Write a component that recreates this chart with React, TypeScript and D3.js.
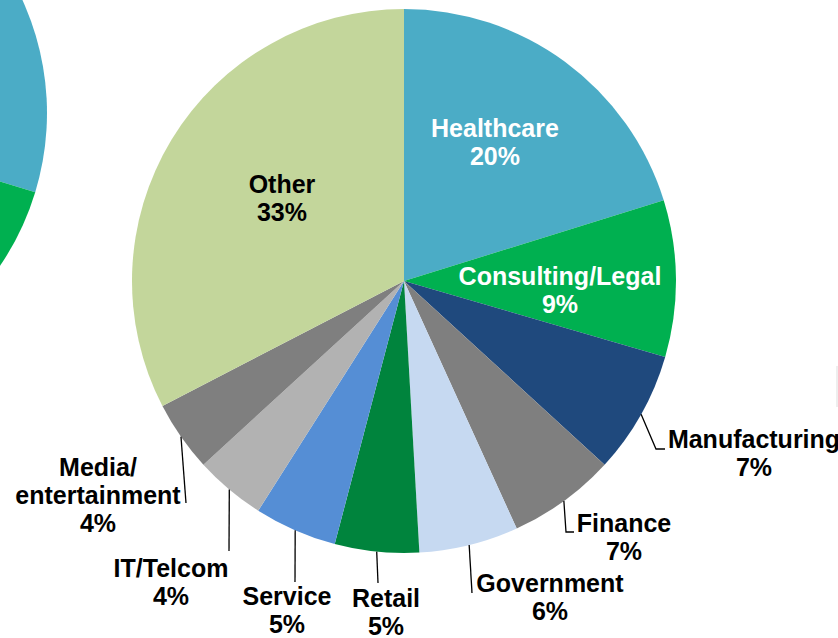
import React from "react";
import * as d3 from "d3";

// ---- data ----
const categories = [
  "Healthcare",
  "Consulting/Legal",
  "Manufacturing",
  "Finance",
  "Government",
  "Retail",
  "Service",
  "IT/Telcom",
  "Media/entertainment",
  "Other",
];
const shares = [20.2, 9.3, 7.3, 6.4, 5.9, 5.0, 4.9, 4.2, 4.2, 32.6];
const percentLabels = ["20%", "9%", "7%", "7%", "6%", "5%", "5%", "4%", "4%", "33%"];
const labelLines = [
  ["Healthcare"],
  ["Consulting/Legal"],
  ["Manufacturing"],
  ["Finance"],
  ["Government"],
  ["Retail"],
  ["Service"],
  ["IT/Telcom"],
  ["Media/", "entertainment"],
  ["Other"],
];

// partially visible neighbouring pie (left, cropped)
const leftPieCategories = ["Healthcare", "Consulting/Legal", "Rest"];
const leftPieShares = [29.7, 12, 58.3];

// ---- styles / layout ----
const colors = [
  "#4BACC6",
  "#00B050",
  "#1F497D",
  "#7F7F7F",
  "#C6D9F1",
  "#00843D",
  "#558ED5",
  "#B2B2B2",
  "#7F7F7F",
  "#C3D69B",
];
const textColors = ["#fff", "#fff", "#000", "#000", "#000", "#000", "#000", "#000", "#000", "#000"];
// label anchor (center x, first baseline y) and leader path end points (null = inside label)
const labelLayout: { x: number; y: number; leader: [number, number][] | null }[] = [
  { x: 495, y: 137, leader: null },
  { x: 560, y: 285, leader: null },
  { x: 754, y: 448, leader: [[656, 449], [665, 449]] },
  { x: 624, y: 532, leader: [[566, 532], [574, 532]] },
  { x: 550, y: 592, leader: [[472, 593]] },
  { x: 386, y: 607, leader: [[378, 583]] },
  { x: 287, y: 605, leader: [[295, 582]] },
  { x: 171, y: 577, leader: [[229, 551]] },
  { x: 98, y: 476, leader: [[186, 503]] },
  { x: 282, y: 193, leader: null },
];

const W = 838;
const H = 638;
const CX = 404;
const CY = 281;
const R = 272;
const LEFT_CX = -225;
const LEFT_CY = 113;
const LINE_H = 28;
const FONT = "'Liberation Sans', Arial, Helvetica, sans-serif";

export default function App() {
  const pie = d3.pie<number>().sort(null).value((d) => d);
  const arcs = pie(shares);
  const arcGen = d3.arc<d3.PieArcDatum<number>>().innerRadius(0).outerRadius(R);
  const leftArcs = pie(leftPieShares);
  const leftColors = ["#4BACC6", "#00B050", "#1F497D"];

  return (
    <svg
      width={W}
      height={H}
      viewBox={`0 0 ${W} ${H}`}
      style={{ position: "absolute", left: 0, top: 0, background: "#fff" }}
    >
      <g transform={`translate(${LEFT_CX},${LEFT_CY})`}>
        {leftArcs.map((a, i) => (
          <path key={leftPieCategories[i]} d={arcGen(a) || ""} fill={leftColors[i]} />
        ))}
      </g>
      <line x1={837} x2={837} y1={366} y2={407} stroke="#ddd" strokeWidth={1} />
      <g transform={`translate(${CX},${CY})`}>
        {arcs.map((a, i) => (
          <path key={categories[i]} d={arcGen(a) || ""} fill={colors[i]} />
        ))}
      </g>
      {arcs.map((a, i) => {
        const lay = labelLayout[i];
        if (!lay.leader) return null;
        const mid = (a.startAngle + a.endAngle) / 2;
        const sx = CX + R * Math.sin(mid);
        const sy = CY - R * Math.cos(mid);
        const pts: [number, number][] = [[sx, sy], ...lay.leader];
        return (
          <path
            key={"l" + i}
            d={d3.line()(pts) || ""}
            fill="none"
            stroke="#000"
            strokeWidth={1.3}
          />
        );
      })}
      {labelLayout.map((lay, i) => {
        const lines = [...labelLines[i], percentLabels[i]];
        return (
          <text
            key={"t" + i}
            x={lay.x}
            y={lay.y}
            textAnchor="middle"
            fontFamily={FONT}
            fontWeight="bold"
            fontSize={25}
            fill={textColors[i]}
          >
            {lines.map((ln, j) => (
              <tspan key={j} x={lay.x} y={lay.y + j * LINE_H}>
                {ln}
              </tspan>
            ))}
          </text>
        );
      })}
    </svg>
  );
}
